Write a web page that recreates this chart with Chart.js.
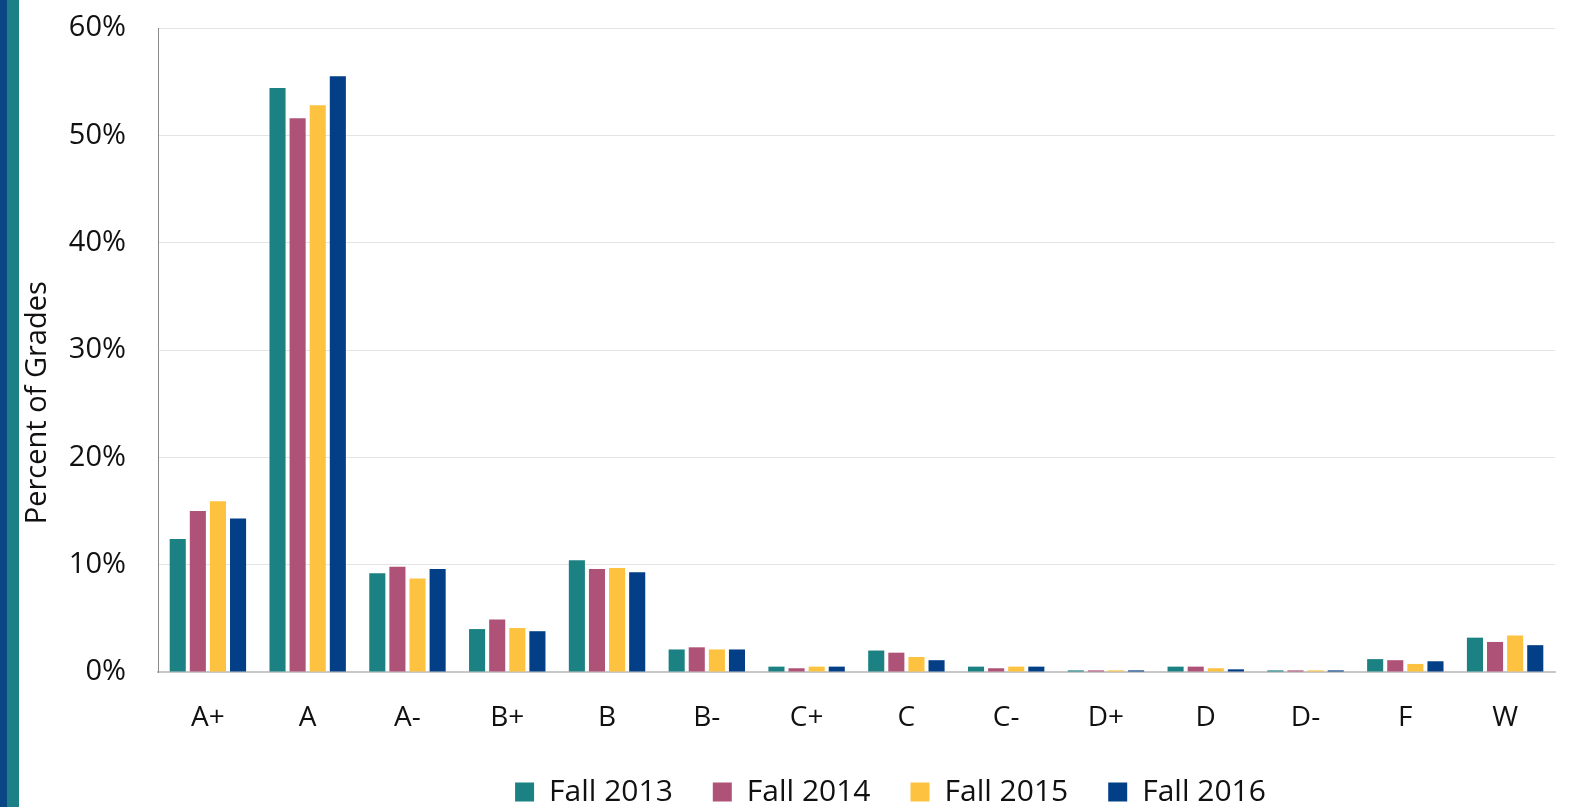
<!DOCTYPE html>
<html>
<head>
<meta charset="utf-8">
<script src="https://cdn.jsdelivr.net/npm/chart.js@4/dist/chart.umd.min.js"></script>
<style>
  html, body { margin: 0; padding: 0; background: #fff; }
  #wrap { position: relative; width: 1575px; height: 807px; }
  #stripe1 { position: absolute; left: 0; top: 0; width: 7px; height: 807px; background: #0b4684; }
  #stripe2 { position: absolute; left: 7px; top: 0; width: 12px; height: 807px; background: #1b8187; }
  canvas { position: absolute; left: 0; top: 0; }
</style>
</head>
<body>
<div id="wrap">
  <canvas id="gradeChart" width="1575" height="807"></canvas>
  <div id="stripe1"></div>
  <div id="stripe2"></div>
</div>
<script>
// Grade categories
const grades = ["A+", "A", "A-", "B+", "B", "B-", "C+", "C", "C-", "D+", "D", "D-", "F", "W"];

// Percent of grades per term
const fall2013 = [12.4, 54.4, 9.2, 4.0, 10.4, 2.1, 0.5, 2.0, 0.5, 0.15, 0.5, 0.15, 1.2, 3.2];
const fall2014 = [15.0, 51.6, 9.8, 4.9, 9.6, 2.3, 0.35, 1.8, 0.35, 0.15, 0.5, 0.15, 1.1, 2.8];
const fall2015 = [15.9, 52.8, 8.7, 4.1, 9.7, 2.1, 0.5, 1.4, 0.5, 0.15, 0.35, 0.15, 0.75, 3.4];
const fall2016 = [14.3, 55.5, 9.6, 3.8, 9.3, 2.1, 0.5, 1.1, 0.5, 0.15, 0.25, 0.15, 1.0, 2.5];

const seriesLabels = ["Fall 2013", "Fall 2014", "Fall 2015", "Fall 2016"];
const seriesColors = ["#1b8183", "#ae5277", "#fdc23f", "#023f86"];

const FONT = "'Open Sans', 'Noto Sans', sans-serif";

function makeSet(i, data) {
  return {
    label: seriesLabels[i],
    data: data,
    backgroundColor: seriesColors[i],
    borderWidth: 0,
    barPercentage: 0.8,
    categoryPercentage: 0.806
  };
}

// legend in the original sits right of the canvas centre and a bit lower
const shiftLegend = {
  id: "shiftLegend",
  afterLayout(chart) {
    const lg = chart.legend;
    lg.left += 103;
    lg.right += 103;
    lg.top += 10;
    lg.bottom += 10;
  }
};

new Chart(document.getElementById("gradeChart"), {
  type: "bar",
  data: {
    labels: grades,
    datasets: [
      makeSet(0, fall2013),
      makeSet(1, fall2014),
      makeSet(2, fall2015),
      makeSet(3, fall2016)
    ]
  },
  plugins: [shiftLegend],
  options: {
    responsive: false,
    animation: false,
    layout: { padding: { left: 20, right: 20, top: 28, bottom: 0 } },
    plugins: {
      tooltip: { enabled: false },
      legend: {
        position: "bottom",
        labels: {
          color: "#111",
          font: { family: FONT, size: 30 },
          boxWidth: 19,
          boxHeight: 19,
          padding: 40
        }
      }
    },
    scales: {
      x: {
        grid: { display: false, drawTicks: false },
        border: { color: "#c8c8c8", width: 2 },
        ticks: {
          color: "#111",
          font: { family: FONT, size: 28 },
          padding: 29
        },
        afterFit: (s) => { s.height = 55; }
      },
      y: {
        min: 0,
        max: 60,
        grid: { color: "#e4e4e4", lineWidth: 1, drawTicks: false },
        border: { color: "#8a8a8a", width: 1 },
        ticks: {
          stepSize: 10,
          color: "#111",
          font: { family: FONT, size: 29 },
          padding: 32,
          callback: (v) => v + "%"
        },
        title: {
          display: true,
          text: "Percent of Grades" + "\u00a0".repeat(14),
          color: "#111",
          font: { family: FONT, size: 29 },
          padding: { top: 0, bottom: 4 }
        },
        afterFit: (s) => { s.width = 138; s.paddingTop = 0; }
      }
    }
  }
});
</script>
</body>
</html>
